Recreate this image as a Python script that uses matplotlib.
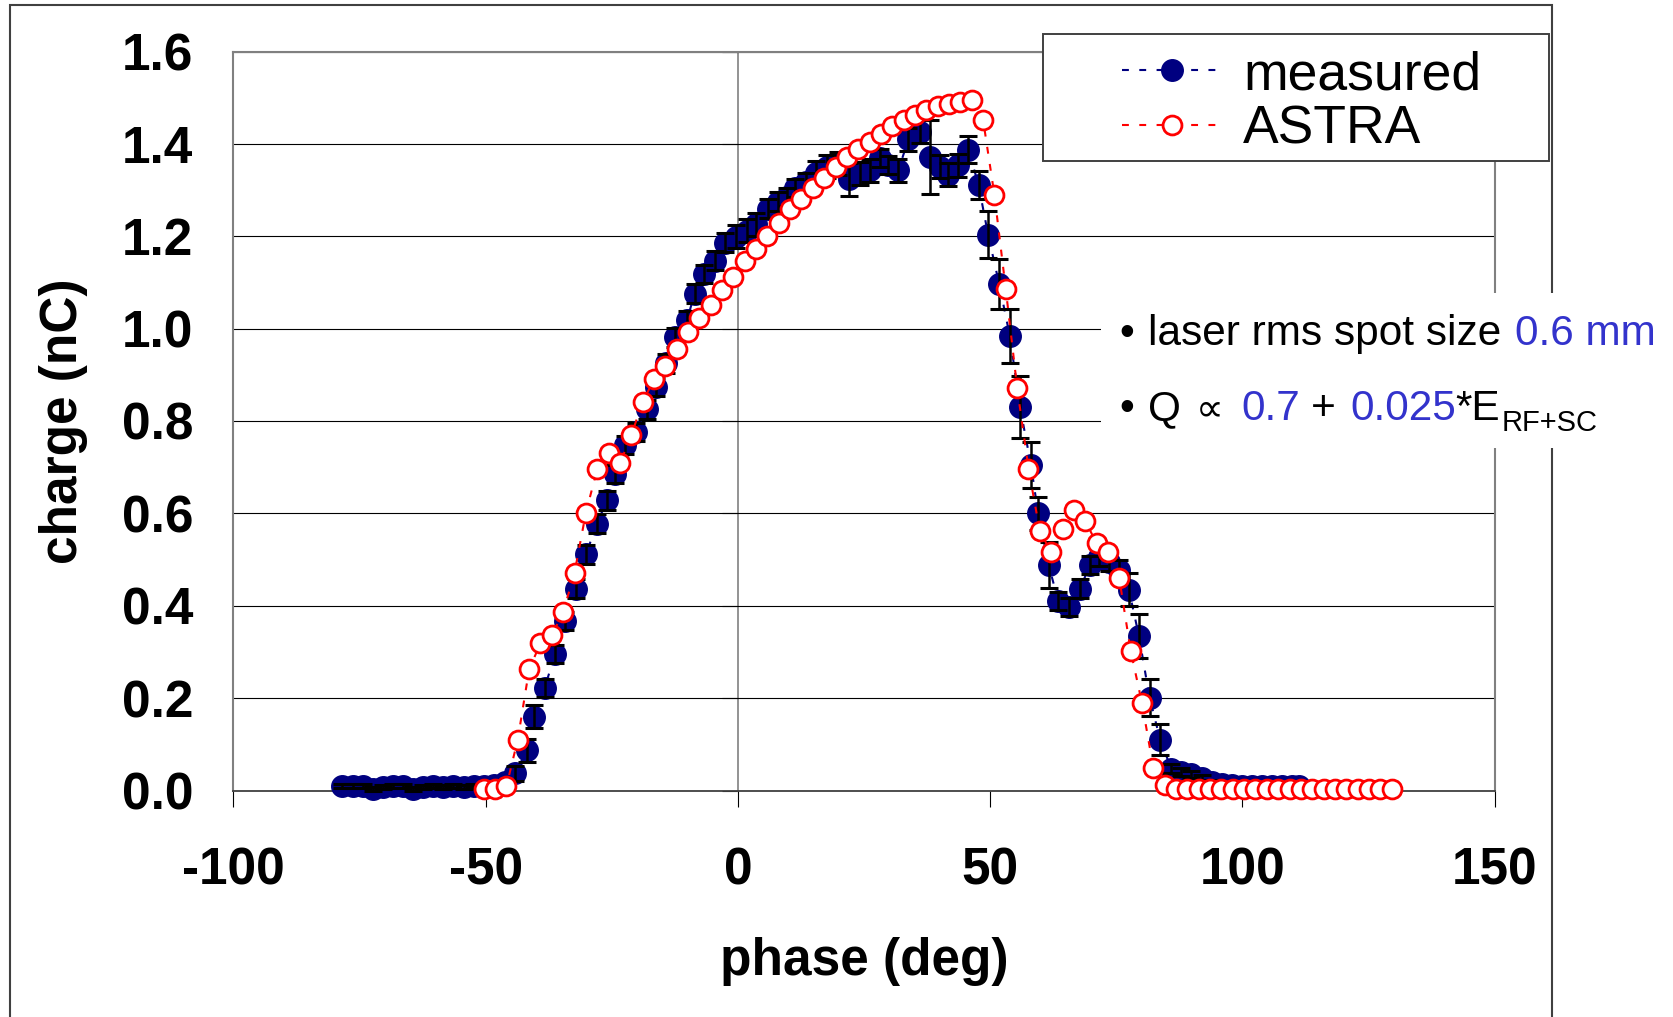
import matplotlib
matplotlib.use("Agg")
import matplotlib.pyplot as plt
from matplotlib.patches import Rectangle

plt.rcParams['font.family'] = ['Liberation Sans', 'DejaVu Sans']
plt.rcParams['axes.unicode_minus'] = False

# ---------------- data ----------------
meas_phase = [-78.4, -76.4, -74.4, -72.4, -70.4, -68.4, -66.4, -64.4, -62.4, -60.4,
              -58.4, -56.4, -54.4, -52.4, -50.4, -48.3, -46.2,
              -44.1, -41.9, -40.4, -38.3, -36.3, -34.3, -32.2, -30.1, -28.0, -25.9,
              -24.4, -22.4, -20.3, -18.1, -16.2, -14.2, -12.4, -10.1, -8.6, -6.7,
              -4.5, -2.5, -0.3, 1.8, 3.6, 5.9, 7.9, 9.7, 11.4, 13.5,
              15.5, 17.6, 19.8, 22.1, 24.2, 26.2, 28.2, 29.8, 31.8, 33.8,
              36.0, 38.1, 40.1, 41.7, 43.7, 45.7, 47.7, 49.6, 51.8, 53.9,
              55.9, 58.1, 59.5, 61.6, 63.5, 65.7, 67.8, 69.8, 71.6, 73.5,
              75.5, 77.5, 79.5, 81.6, 83.7, 85.9, 87.9, 89.9, 91.9, 93.9,
              95.9, 97.9, 99.9, 101.9, 103.9, 105.9, 107.9, 109.9, 111.3]
meas_charge = [0.010, 0.010, 0.009, 0.003, 0.008, 0.010, 0.009, 0.004, 0.008, 0.009,
               0.008, 0.009, 0.008, 0.009, 0.009, 0.011, 0.018,
               0.037, 0.087, 0.160, 0.222, 0.295, 0.367, 0.437, 0.511, 0.578, 0.628,
               0.685, 0.748, 0.776, 0.825, 0.874, 0.925, 0.981, 1.018, 1.076, 1.118,
               1.147, 1.186, 1.199, 1.212, 1.226, 1.260, 1.275, 1.285, 1.304, 1.318,
               1.338, 1.351, 1.358, 1.323, 1.336, 1.343, 1.369, 1.354, 1.343, 1.410,
               1.426, 1.372, 1.351, 1.333, 1.354, 1.387, 1.311, 1.203, 1.096, 0.984,
               0.831, 0.704, 0.600, 0.488, 0.410, 0.397, 0.437, 0.488, 0.505, 0.495,
               0.478, 0.435, 0.334, 0.201, 0.110, 0.047, 0.040, 0.035, 0.028, 0.018,
               0.013, 0.011, 0.010, 0.010, 0.009, 0.009, 0.009, 0.009, 0.009]
meas_err = [0.004] * 17 + [
    0.016, 0.025, 0.025, 0.020, 0.020, 0.020, 0.020, 0.020, 0.020, 0.020,
    0.020, 0.020, 0.020, 0.020, 0.020, 0.020, 0.020, 0.020, 0.020, 0.020,
    0.020, 0.020, 0.025, 0.025, 0.025, 0.020, 0.020, 0.020, 0.020, 0.020,
    0.025, 0.025, 0.025, 0.035, 0.025, 0.025, 0.020, 0.020, 0.025, 0.025,
    0.025, 0.080, 0.025, 0.025, 0.025, 0.029, 0.030, 0.051, 0.054, 0.059,
    0.067, 0.050, 0.035, 0.050, 0.020, 0.020, 0.020, 0.020, 0.020, 0.020,
    0.020, 0.035, 0.048, 0.040, 0.034, 0.010, 0.008, 0.008, 0.006, 0.005,
    0.005, 0.004, 0.004, 0.004, 0.004, 0.004, 0.004, 0.004, 0.004]

astra_phase = [-50.4, -48.15, -45.9, -43.65, -41.4, -39.15, -36.9, -34.65, -32.4, -30.15,
               -27.9, -25.65, -23.4, -21.15, -18.9, -16.65, -14.4, -12.15, -9.9, -7.65,
               -5.4, -3.15, -0.9, 1.35, 3.6, 5.85, 8.1, 10.35, 12.6, 14.85,
               17.1, 19.35, 21.6, 23.85, 26.1, 28.35, 30.6, 32.85, 35.1, 37.35,
               39.6, 41.85, 44.1, 46.35, 48.6, 50.85, 53.1, 55.35, 57.6, 59.85,
               62.1, 64.35, 66.6, 68.85, 71.1, 73.35, 75.6, 77.85, 80.1, 82.35,
               84.6, 86.85, 89.1, 91.35, 93.6, 95.85, 98.1, 100.35, 102.6, 104.85,
               107.1, 109.35, 111.6, 113.85, 116.1, 118.35, 120.6, 122.85, 125.1, 127.35,
               129.6]
astra_charge = [0.004, 0.004, 0.009, 0.110, 0.262, 0.319, 0.336, 0.386, 0.471, 0.601,
                0.696, 0.730, 0.708, 0.769, 0.841, 0.890, 0.920, 0.955, 0.993, 1.022,
                1.051, 1.083, 1.112, 1.146, 1.172, 1.200, 1.229, 1.259, 1.280, 1.304,
                1.327, 1.349, 1.371, 1.388, 1.405, 1.422, 1.439, 1.452, 1.463, 1.473,
                1.482, 1.486, 1.490, 1.496, 1.452, 1.289, 1.085, 0.872, 0.697, 0.561,
                0.516, 0.567, 0.607, 0.584, 0.535, 0.516, 0.459, 0.303, 0.189, 0.049,
                0.011, 0.004, 0.003, 0.003, 0.003, 0.003, 0.003, 0.003, 0.003, 0.003,
                0.003, 0.003, 0.003, 0.003, 0.003, 0.003, 0.003, 0.003, 0.003, 0.003,
                0.003]

x_ticks = [-100, -50, 0, 50, 100, 150]
y_ticks = [0.0, 0.2, 0.4, 0.6, 0.8, 1.0, 1.2, 1.4, 1.6]
y_tick_labels = ["0.0", "0.2", "0.4", "0.6", "0.8", "1.0", "1.2", "1.4", "1.6"]
series_labels = ["measured", "ASTRA"]
x_label = "phase (deg)"
y_label = "charge (nC)"

# ---------------- figure ----------------
W, H = 1674, 1017
fig = plt.figure(figsize=(W / 100, H / 100), dpi=100)
fig.patch.set_facecolor('white')


def fx(px):
    return px / W


def fy(py):
    return 1 - py / H


ax = fig.add_axes([fx(233.5), fy(790.5), (1494.6 - 233.5) / W, (790.5 - 51.5) / H])
ax.set_xlim(-100, 150)
ax.set_ylim(0, 1.6)

navy = '#000080'
blue_txt = '#3333CC'
dash = (0, (3.3, 5))

ln_m, = ax.plot(meas_phase, meas_charge, linestyle=dash, lw=1.5, color=navy,
                marker='o', ms=15.5, mfc=navy, mec=navy, zorder=3, clip_on=False)
ax.errorbar(meas_phase, meas_charge, yerr=meas_err, fmt='none', ecolor='black',
            elinewidth=1.8, capsize=6.5, capthick=2.2, zorder=4, clip_on=False)
ln_a, = ax.plot(astra_phase, astra_charge, linestyle=dash, lw=1.5, color='red',
                marker='o', ms=13.6, mfc='white', mec='red', mew=2.0, zorder=5,
                clip_on=False)

# axes styling
ax.set_xticks(x_ticks)
ax.set_xticklabels([str(v) for v in x_ticks])
ax.set_yticks(y_ticks)
ax.set_yticklabels(y_tick_labels)
ax.tick_params(axis='x', direction='out', length=11.5, width=0.8, color='black',
               labelsize=37, pad=29)
ax.tick_params(axis='y', length=0, labelsize=37, pad=29)
for lab in ax.get_xticklabels() + ax.get_yticklabels():
    lab.set_fontweight('bold')
ax.yaxis.grid(True, color='black', lw=0.8)
ax.set_axisbelow(True)
for s in ['left', 'top', 'right']:
    ax.spines[s].set_color('#808080')
    ax.spines[s].set_linewidth(1.5)
ax.spines['bottom'].set_color('#404040')
ax.spines['bottom'].set_linewidth(1.3)

ax.set_xlabel(x_label, fontsize=37, fontweight='bold', labelpad=30)
ax.set_ylabel(y_label, fontsize=37, fontweight='bold', labelpad=24)

# vertical axis at x = 0 with outward ticks
sec = ax.secondary_yaxis(0.4)
sec.set_yticks(y_ticks)
sec.tick_params(axis='y', direction='out', length=11.5, width=0.8, color='black',
                labelleft=False, labelright=False)
for s in sec.spines.values():
    s.set_color('#808080')
    s.set_linewidth(1.2)

# outer chart border
fig.add_artist(Rectangle((fx(10), fy(1030)), (1552 - 10) / W, (1030 - 5) / H,
                         transform=fig.transFigure, fill=False, edgecolor='#404040',
                         lw=1.5, zorder=10, clip_on=False))

# legend frame + legend
fig.add_artist(Rectangle((fx(1042.7), fy(161)), (1549.3 - 1042.7) / W, (161 - 34) / H,
                         transform=fig.transFigure, facecolor='white', edgecolor='#404040',
                         lw=1.4, zorder=11))
leg = fig.legend([ln_m, ln_a], series_labels, loc='upper left',
                 bbox_to_anchor=(fx(1121.7), fy(50)), frameon=False, fontsize=38.5,
                 handlelength=1.87, handletextpad=0.40, labelspacing=0.08,
                 borderpad=0, borderaxespad=0, numpoints=1)
leg.set_zorder(12)

# annotation box
fig.add_artist(Rectangle((fx(1101), fy(448)), (1674 - 1101) / W, (448 - 293) / H,
                         transform=fig.transFigure, facecolor='white', edgecolor='none',
                         zorder=11))


def put(px, py, s, color='black', size=30.5, family=None):
    kw = dict(fontsize=size, color=color, va='baseline', ha='left', zorder=13)
    if family is not None:
        kw['family'] = family
    fig.text(fx(px), fy(py), s, **kw)


put(1119.5, 345, "\u2022")
put(1148, 345, "laser rms spot size")
put(1515, 345, "0.6 mm", color=blue_txt)
put(1119.5, 420, "\u2022")
put(1148, 420, "Q")
put(1196, 420, "\u221d", size=28, family=['DejaVu Sans'])
put(1241.7, 420, "0.7", color=blue_txt)
put(1311, 420, "+")
put(1350, 420, "0.025", color=blue_txt)
put(1455, 420, "*E")
put(1501.7, 431, "RF+SC", size=21)

fig.savefig("out.png", dpi=100, facecolor='white')
